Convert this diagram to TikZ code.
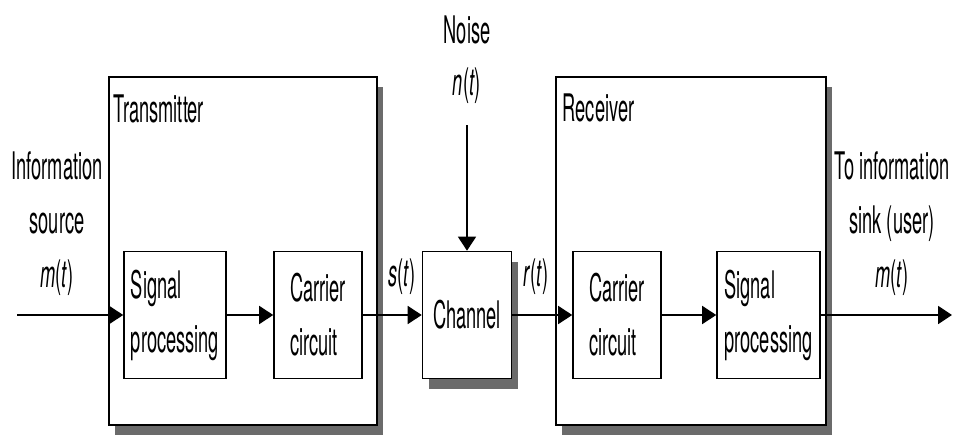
\documentclass[tikz,border=0pt]{standalone}
\usepackage{fontspec}
\setmainfont{TeX Gyre Heros}[FakeStretch=0.48]
\usetikzlibrary{arrows.meta}
\usetikzlibrary{shadows}

\begin{document}
\begin{tikzpicture}[x=1pt,y=-1pt,inner sep=0pt,line width=1.6pt,
  font=\fontsize{38}{54}\selectfont,
  box/.style={draw,fill=white,minimum height=127pt,align=left},
  shade/.style={drop shadow={shadow xshift=6pt,shadow yshift=-10pt,fill=black!58,opacity=1}},
  link/.style={line width=1.9pt,-{Triangle[length=14pt,width=18pt]}}]
\useasboundingbox (0, 0) rectangle (954, 439);
% transmitter and receiver
\node[draw,fill=white,shade,minimum width=268pt,minimum height=348pt] (tx) at (243, 251) {};
\node[anchor=base west] (txl) at (113, 122) {Transmitter};
\node[draw,fill=white,shade,minimum width=270pt,minimum height=348pt] (rx) at (691, 251) {};
\node[anchor=base west] (rxl) at (562, 121) {Receiver};

\node[box,minimum width=102pt] (sp1) at (175, 315) {Signal\\processing};
\node[box,minimum width=88pt] (cc1) at (318, 315) {Carrier\\circuit};
\node[box,shade,minimum width=89pt] (ch) at (467, 315) {Channel};
\node[box,minimum width=88pt] (cc2) at (617, 315) {Carrier\\circuit};
\node[box,minimum width=103pt] (sp2) at (768.5, 315) {Signal\\processing};

\node[align=center] (src) at (57, 224) {Information\\source\\\textit{m}(\textit{t})};
\node[align=center] (snk) at (892, 224) {To information\\sink (user)\\\textit{m}(\textit{t})};
\node (noise) at (467, 30) {Noise};
\node (nt) at (467, 86) {\textit{n}(\textit{t})};
\node (st) at (402, 277) {\textit{s}(\textit{t})};
\node (rt) at (536, 277) {\textit{r}(\textit{t})};
\coordinate (nin) at (467, 125);
\coordinate (in) at (17, 315);
\coordinate (out) at (952, 315);

\draw[link] (in) -- (sp1);
\draw[link] (sp1) -- (cc1);
\draw[link] (cc1) -- (ch);
\draw[link] (ch) -- (cc2);
\draw[link] (cc2) -- (sp2);
\draw[link] (sp2) -- (out);
\draw[link,line width=1.5pt] (nin) -- (ch);
\end{tikzpicture}
\end{document}
